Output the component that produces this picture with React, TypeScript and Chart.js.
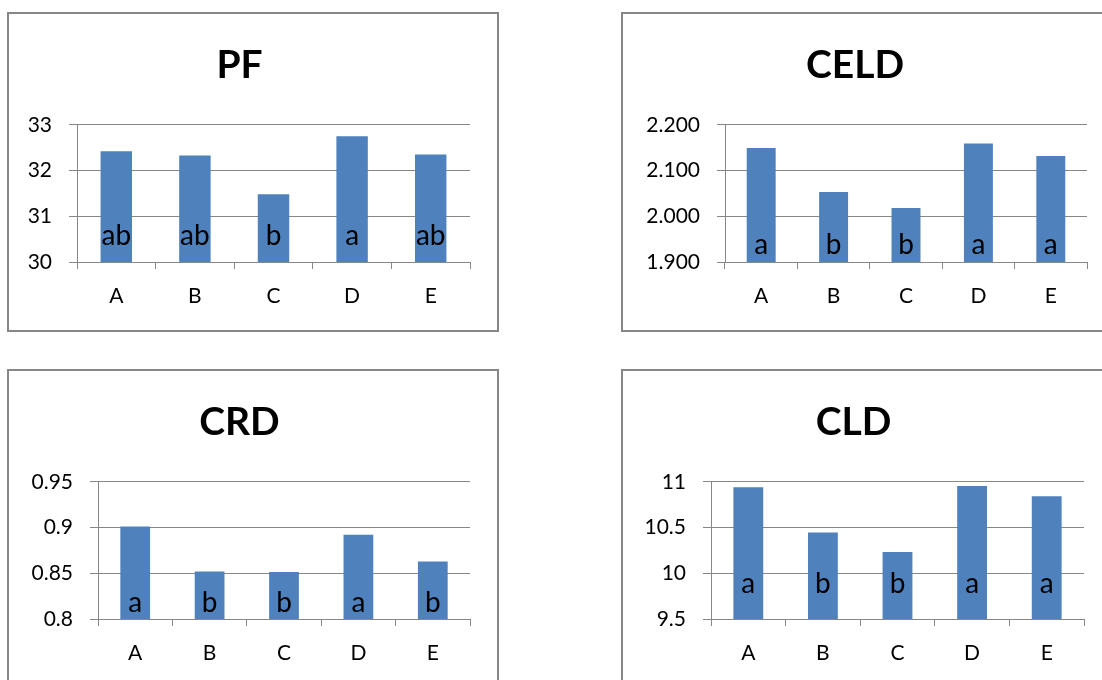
import React, { useEffect, useRef } from 'react';
import { Chart, registerables } from 'chart.js';

Chart.register(...registerables);

const categories = ['A', 'B', 'C', 'D', 'E'];

const pfValues = [32.42, 32.33, 31.48, 32.75, 32.35];
const pfLetters = ['ab', 'ab', 'b', 'a', 'ab'];

const celdValues = [2.149, 2.053, 2.018, 2.159, 2.132];
const celdLetters = ['a', 'b', 'b', 'a', 'a'];

const crdValues = [0.901, 0.852, 0.8515, 0.892, 0.863];
const crdLetters = ['a', 'b', 'b', 'a', 'b'];

const cldValues = [10.94, 10.446, 10.233, 10.953, 10.843];
const cldLetters = ['a', 'b', 'b', 'a', 'a'];

const FONT = 'Lato, "Open Sans", "Noto Sans", sans-serif';
const BAR = '#4F81BD';
const GRID = '#878787';

type PanelCfg = {
  title: string;
  values: number[];
  letters: string[];
  min: number;
  max: number;
  step: number;
  decimals: number | null;
  letterAt: number;
  left: number;
  top: number;
  yWidth: number;
  rightPad: number;
};

const panels: PanelCfg[] = [
  { title: 'PF', values: pfValues, letters: pfLetters, min: 30, max: 33, step: 1, decimals: null, letterAt: 30.37, left: 7, top: 12, yWidth: 68, rightPad: 27 },
  { title: 'CELD', values: celdValues, letters: celdLetters, min: 1.9, max: 2.2, step: 0.1, decimals: 3, letterAt: 1.9175, left: 621, top: 12, yWidth: 102, rightPad: 24 },
  { title: 'CRD', values: crdValues, letters: crdLetters, min: 0.8, max: 0.95, step: 0.05, decimals: null, letterAt: 0.8078, left: 7, top: 369, yWidth: 89, rightPad: 27 },
  { title: 'CLD', values: cldValues, letters: cldLetters, min: 9.5, max: 11, step: 0.5, decimals: null, letterAt: 9.782, left: 621, top: 369, yWidth: 88, rightPad: 27 },
];

const CW = 488;
const CH = 316;

function Panel({ cfg }: { cfg: PanelCfg }) {
  const ref = useRef<HTMLCanvasElement | null>(null);
  useEffect(() => {
    if (!ref.current) return;
    const letterPlugin = {
      id: 'letters' + cfg.title,
      afterDatasetsDraw(chart: any) {
        const ctx = chart.ctx;
        const meta = chart.getDatasetMeta(0);
        const y = chart.scales.y.getPixelForValue(cfg.letterAt);
        ctx.save();
        ctx.font = `28px ${FONT}`;
        ctx.fillStyle = '#000';
        ctx.textAlign = 'center';
        ctx.textBaseline = 'alphabetic';
        meta.data.forEach((el: any, i: number) => {
          ctx.fillText(cfg.letters[i], el.x, y);
        });
        ctx.restore();
      },
    };
    const chart = new Chart(ref.current, {
      type: 'bar',
      data: {
        labels: categories,
        datasets: [
          {
            data: cfg.values,
            backgroundColor: BAR,
            borderWidth: 0,
            barPercentage: 0.4,
            categoryPercentage: 1.0,
          },
        ],
      },
      options: {
        responsive: false,
        animation: false,
        devicePixelRatio: 1,
        layout: { padding: { left: 0, right: cfg.rightPad, top: 0, bottom: 0 } },
        plugins: {
          legend: { display: false },
          tooltip: { enabled: false },
          title: {
            display: true,
            text: cfg.title,
            color: '#000',
            font: { family: FONT, size: 39, weight: 'bold' },
            padding: { top: 28, bottom: 36 },
          },
        },
        scales: {
          x: {
            grid: {
              display: true,
              drawOnChartArea: false,
              drawTicks: true,
              tickLength: 7,
              color: GRID,
              offset: true,
            },
            border: { display: true, color: GRID, width: 1 },
            ticks: { color: '#000', font: { family: FONT, size: 21 }, padding: 15 },
            afterFit: (s: any) => {
              s.height = 68;
            },
          },
          y: {
            min: cfg.min,
            max: cfg.max,
            grid: { color: GRID, tickLength: 8, drawTicks: true },
            border: { display: true, color: GRID, width: 1 },
            ticks: {
              stepSize: cfg.step,
              color: '#000',
              font: { family: FONT, size: 21 },
              padding: 17,
              callback: (v: any) => {
                const n = Number(v);
                if (cfg.decimals !== null) return n.toFixed(cfg.decimals);
                return String(Number(n.toFixed(4)));
              },
            },
            afterFit: (s: any) => {
              s.width = cfg.yWidth;
            },
          },
        },
      },
      plugins: [letterPlugin],
    } as any);
    return () => chart.destroy();
  }, [cfg]);
  return (
    <div
      style={{
        position: 'absolute',
        left: cfg.left,
        top: cfg.top,
        width: CW + 4,
        height: CH + 4,
        border: `2px solid ${GRID}`,
        boxSizing: 'border-box',
        background: '#fff',
      }}
    >
      <canvas ref={ref} width={CW} height={CH} style={{ display: 'block', width: CW, height: CH }} />
    </div>
  );
}

export default function App() {
  return (
    <div
      style={{
        position: 'fixed',
        left: 0,
        top: 0,
        width: 1102,
        height: 680,
        overflow: 'hidden',
        background: '#fff',
      }}
    >
      {panels.map((p) => (
        <Panel key={p.title} cfg={p} />
      ))}
    </div>
  );
}
